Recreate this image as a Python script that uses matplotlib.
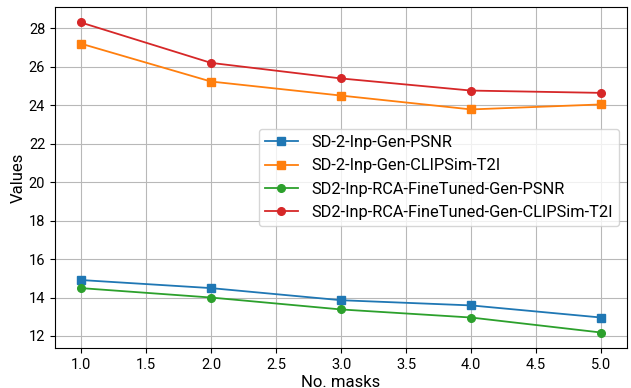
import matplotlib
matplotlib.use("Agg")
import matplotlib.pyplot as plt

plt.rcParams["font.family"] = ["Roboto", "DejaVu Sans"]

# Dados
n_masks = [1, 2, 3, 4, 5]
sd2_psnr = [14.91, 14.49, 13.86, 13.59, 12.96]
sd2_clip = [27.20, 25.23, 24.50, 23.78, 24.04]
rca_psnr = [14.49, 14.00, 13.38, 12.96, 12.18]
rca_clip = [28.30, 26.20, 25.39, 24.76, 24.64]

labels = [
	"SD-2-Inp-Gen-PSNR",
	"SD-2-Inp-Gen-CLIPSim-T2I",
	"SD2-Inp-RCA-FineTuned-Gen-PSNR",
	"SD2-Inp-RCA-FineTuned-Gen-CLIPSim-T2I",
]

fig, ax = plt.subplots(figsize=(6.31, 3.88), dpi=100)
fig.subplots_adjust(left=0.087, right=0.994, top=0.982, bottom=0.103)

ax.plot(n_masks, sd2_psnr, marker="s", markersize=6, linewidth=1.3, color="#1f77b4", label=labels[0])
ax.plot(n_masks, sd2_clip, marker="s", markersize=6, linewidth=1.3, color="#ff7f0e", label=labels[1])
ax.plot(n_masks, rca_psnr, marker="o", markersize=5.5, linewidth=1.3, color="#2ca02c", label=labels[2])
ax.plot(n_masks, rca_clip, marker="o", markersize=5.5, linewidth=1.3, color="#d62728", label=labels[3])

ax.set_xlabel("No. masks", fontsize=12, labelpad=2)
ax.set_ylabel("Values", fontsize=12, labelpad=2)
ax.tick_params(labelsize=10.5)
ax.grid(True, color="#b8b8b8")
ax.legend(loc="center right", fontsize=11.8)

fig.savefig("out.png", dpi=100)
